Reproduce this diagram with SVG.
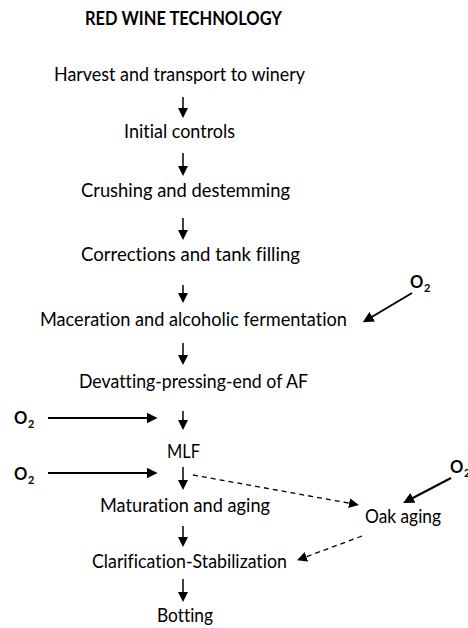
<svg xmlns="http://www.w3.org/2000/svg" width="468" height="628" viewBox="0 0 468 628">
<style>
  text { font-family: Lato, "Liberation Sans", sans-serif; fill: #000; font-variant-ligatures: none; }
  .step { font-size: 18.5px; }
  .title { font-size: 18px; font-weight: bold; }
  .o2 { font-size: 16.5px; font-weight: bold; }
  .sub { font-size: 11px; font-weight: bold; }
  .flow { stroke: #000; stroke-width: 1.5; fill: none; marker-end: url(#ah); }
  .oxy { stroke: #000; stroke-width: 2; fill: none; marker-end: url(#ahb); }
  .dash { stroke: #000; stroke-width: 1.3; stroke-dasharray: 5 4; fill: none; marker-end: url(#ah); }
</style>
<defs>
  <marker id="ah" markerUnits="userSpaceOnUse" markerWidth="10" markerHeight="10" refX="5" refY="5" orient="auto" viewBox="0 0 10 10">
    <path d="M0,0 L10,5 L0,10 Z" fill="#000"/>
  </marker>
  <marker id="ahb" markerUnits="userSpaceOnUse" markerWidth="11" markerHeight="11" refX="5.5" refY="5.5" orient="auto" viewBox="0 0 11 11">
    <path d="M0,0 L11,5.5 L0,11 Z" fill="#000"/>
  </marker>
</defs>

<text class="title" x="85" y="25" textLength="197" lengthAdjust="spacingAndGlyphs">RED WINE TECHNOLOGY</text>

<g id="n1"><text class="step" x="54" y="81" textLength="251" lengthAdjust="spacingAndGlyphs">Harvest and transport to winery</text></g>
<g id="n2"><text class="step" x="124" y="138" textLength="111" lengthAdjust="spacingAndGlyphs">Initial controls</text></g>
<g id="n3"><text class="step" x="81" y="197" textLength="209" lengthAdjust="spacingAndGlyphs">Crushing and destemming</text></g>
<g id="n4"><text class="step" x="81" y="261" textLength="219" lengthAdjust="spacingAndGlyphs">Corrections and tank filling</text></g>
<g id="n5"><text class="step" x="40" y="326" textLength="307" lengthAdjust="spacingAndGlyphs">Maceration and alcoholic fermentation</text></g>
<g id="n6"><text class="step" x="79" y="388" textLength="229" lengthAdjust="spacingAndGlyphs">Devatting-pressing-end of AF</text></g>
<g id="n7"><text class="step" x="167" y="458" textLength="33" lengthAdjust="spacingAndGlyphs">MLF</text></g>
<g id="n8"><text class="step" x="100" y="512" textLength="170" lengthAdjust="spacingAndGlyphs">Maturation and aging</text></g>
<g id="n9"><text class="step" x="365" y="523" textLength="76" lengthAdjust="spacingAndGlyphs">Oak aging</text></g>
<g id="n10"><text class="step" x="92" y="568" textLength="195" lengthAdjust="spacingAndGlyphs">Clarification-Stabilization</text></g>
<g id="n11"><text class="step" x="157" y="622" textLength="56" lengthAdjust="spacingAndGlyphs">Botting</text></g>

<g id="o2a"><text class="o2" x="410" y="288">O</text><text class="sub" x="424" y="292">2</text></g>
<g id="o2b"><text class="o2" x="14" y="424">O</text><text class="sub" x="28" y="428">2</text></g>
<g id="o2c"><text class="o2" x="14" y="480">O</text><text class="sub" x="28" y="484">2</text></g>
<g id="o2d"><text class="o2" x="450" y="473">O</text><text class="sub" x="464" y="477">2</text></g>

<g id="connectors">
  <line class="flow" x1="183" y1="97" x2="183" y2="113"/>
  <line class="flow" x1="183" y1="153" x2="183" y2="171"/>
  <line class="flow" x1="183" y1="218" x2="183" y2="235"/>
  <line class="flow" x1="183" y1="285" x2="183" y2="298"/>
  <line class="flow" x1="183" y1="343" x2="183" y2="360"/>
  <line class="flow" x1="183" y1="411" x2="183" y2="425"/>
  <line class="flow" x1="183" y1="467" x2="183" y2="485"/>
  <line class="flow" x1="183" y1="526" x2="183" y2="542"/>
  <line class="flow" x1="183" y1="579" x2="183" y2="597"/>

  <line class="oxy" x1="412" y1="293" x2="367.5" y2="319.5"/>
  <line class="oxy" x1="48" y1="418" x2="152" y2="418"/>
  <line class="oxy" x1="48" y1="473" x2="152" y2="473"/>
  <line class="oxy" x1="451" y1="478" x2="408" y2="500.5"/>

  <line class="dash" x1="193" y1="475" x2="354" y2="504"/>
  <line class="dash" x1="362" y1="536" x2="301.7" y2="558.5"/>
</g>
</svg>
